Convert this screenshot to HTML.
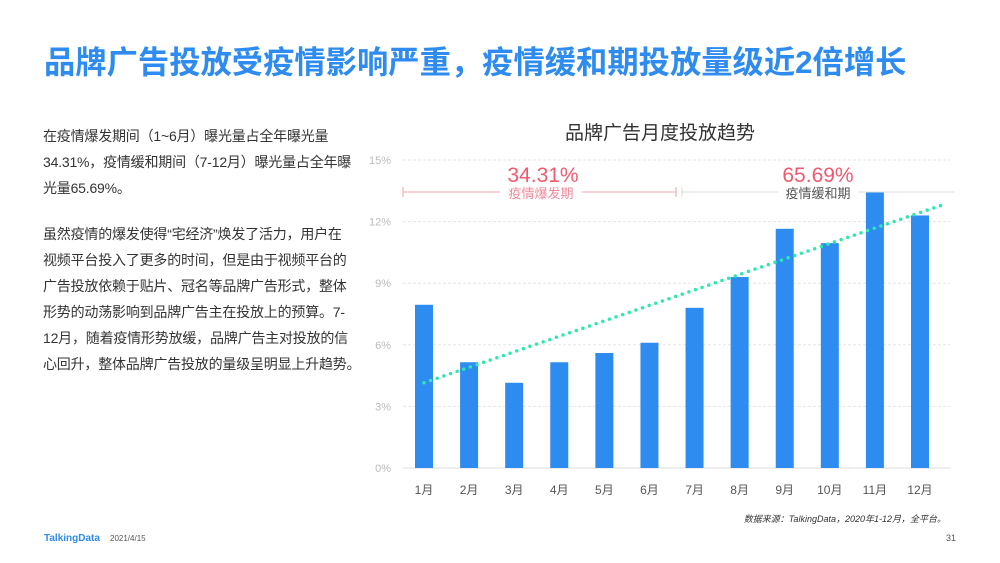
<!DOCTYPE html>
<html><head><meta charset="utf-8"><style>
body{margin:0;width:1000px;height:563px;background:#fff;position:relative;overflow:hidden;font-family:"Liberation Sans","Noto Sans CJK SC",sans-serif}
.t{position:absolute;white-space:nowrap}
</style></head><body>
<div class="t" style="left:44px;top:38px;font-size:31.3px;font-weight:bold;color:#2e8bef">品牌广告投放受疫情影响严重，疫情缓和期投放量级近2倍增长</div>
<div class="t" style="left:43px;top:123px;font-size:14px;line-height:26px;color:#333;letter-spacing:-0.2px">
<p style="margin:0 0 20px 0">在疫情爆发期间（1~6月）曝光量占全年曝光量<br>34.31%，疫情缓和期间（7-12月）曝光量占全年曝<br>光量65.69%。</p>
<p style="margin:0">虽然疫情的爆发使得“宅经济”焕发了活力，用户在<br>视频平台投入了更多的时间，但是由于视频平台的<br>广告投放依赖于贴片、冠名等品牌广告形式，整体<br>形势的动荡影响到品牌广告主在投放上的预算。7-<br>12月，随着疫情形势放缓，品牌广告主对投放的信<br>心回升，整体品牌广告投放的量级呈明显上升趋势。</p>
</div>
<svg id="chart" width="1000" height="563" style="position:absolute;left:0;top:0">
<text x="660" y="139" font-size="19" fill="#333" text-anchor="middle" font-family="Liberation Sans, Noto Sans CJK SC, sans-serif">品牌广告月度投放趋势</text>
<g id="grid"></g><g id="bars"></g><g id="trend"></g>
<line x1="403" y1="192" x2="500" y2="192" stroke="#f3a0ae" stroke-width="1"/>
<line x1="582" y1="192" x2="676" y2="192" stroke="#f3a0ae" stroke-width="1"/>
<line x1="403" y1="187" x2="403" y2="197" stroke="#f3a0ae"/>
<line x1="676" y1="187" x2="676" y2="197" stroke="#f3a0ae"/>
<line x1="682" y1="192" x2="778" y2="192" stroke="#ddd"/>
<line x1="858" y1="192" x2="955" y2="192" stroke="#ddd"/>
<line x1="682" y1="187" x2="682" y2="197" stroke="#ddd"/>
<text x="543" y="182" font-size="21" fill="#ef5a6e" text-anchor="middle">34.31%</text>
<text x="541" y="198" font-size="13" fill="#f08a9a" text-anchor="middle" font-family="Liberation Sans, Noto Sans CJK SC, sans-serif">疫情爆发期</text>
<text x="818" y="182" font-size="21" fill="#ef5a6e" text-anchor="middle">65.69%</text>
<text x="818" y="198" font-size="13" fill="#555" text-anchor="middle" font-family="Liberation Sans, Noto Sans CJK SC, sans-serif">疫情缓和期</text>
<text x="946" y="522" font-size="9" fill="#333" text-anchor="end" font-style="italic" font-family="Liberation Sans, Noto Sans CJK SC, sans-serif">数据来源：TalkingData，2020年1-12月，全平台。</text>
<text x="44" y="541" font-size="10" fill="#2e8bef" font-weight="bold">TalkingData</text>
<text x="110" y="541" font-size="8" fill="#555">2021/4/15</text>
<text x="956" y="541" font-size="9" fill="#555" text-anchor="end">31</text>
</svg>
<script>
const months=["1月","2月","3月","4月","5月","6月","7月","8月","9月","10月","11月","12月"];
const shares=[7.95,5.15,4.15,5.15,5.6,6.1,7.8,9.3,11.65,10.95,13.45,12.3];
const yTicks=[0,3,6,9,12,15];
const NS="http://www.w3.org/2000/svg";
const x0=403,x1=950,y0=468,yTop=160,yMax=15;
const xs=i=>424+i*(920-424)/11;
const ys=v=>y0-(v/yMax)*(y0-yTop);
function mk(tag,attrs,parent){const e=document.createElementNS(NS,tag);for(const k in attrs)e.setAttribute(k,attrs[k]);parent.appendChild(e);return e;}
const grid=document.getElementById('grid'),bars=document.getElementById('bars'),tr=document.getElementById('trend');
yTicks.forEach(t=>{
  const l=mk('line',{x1:x0,x2:x1,y1:ys(t),y2:ys(t),stroke:t===0?'#ddd':'#e6e6e6','stroke-dasharray':t===0?'':'3,2'},grid);
  
  
  const tx=mk('text',{x:391,y:ys(t)+4,'font-size':11,fill:'#bbb','text-anchor':'end'},grid);
  tx.textContent=t+'%';
  
  
});
months.forEach((m,i)=>{
  const r=mk('rect',{x:xs(i)-9,y:ys(shares[i]),width:18,height:y0-ys(shares[i]),fill:'#2e8bef'},bars);
  
  
  const tx=mk('text',{x:xs(i),y:494,'font-size':12,fill:'#555','text-anchor':'middle','font-family':'Liberation Sans, Noto Sans CJK SC, sans-serif'},bars);
  tx.textContent=m;
  
  
});
const n=shares.length;let sx=0,sy=0,sxy=0,sxx=0;
shares.forEach((v,i)=>{sx+=i;sy+=v;sxy+=i*v;sxx+=i*i;});
const b=(n*sxy-sx*sy)/(n*sxx-sx*sx),a=(sy-b*sx)/n;
const tl=mk('line',{x1:xs(0),y1:ys(a),x2:xs(11)+26,y2:ys(a+b*(11+26/45.1)),stroke:'#2ee8b0','stroke-width':3.5,'stroke-dasharray':'0,7','stroke-linecap':'round'},tr);


</script>
</body></html>
